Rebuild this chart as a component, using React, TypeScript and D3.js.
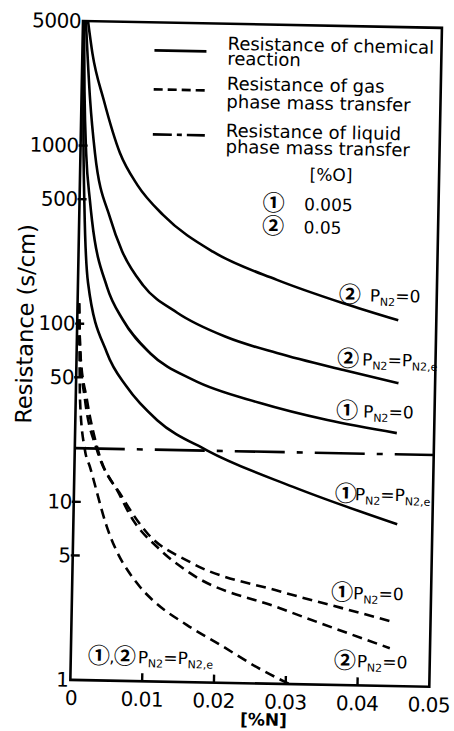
import React from 'react';
import * as d3 from 'd3';

// Axis ticks
const X_TICKS = [0, 0.01, 0.02, 0.03, 0.04, 0.05];
const X_TICK_LABELS = ['0', '0.01', '0.02', '0.03', '0.04', '0.05'];
const Y_TICKS = [1, 5, 10, 50, 100, 500, 1000, 5000];
const Y_MINOR_MARKS = [5, 10, 50, 100, 500, 1000];

type Pt = [number, number];

// Resistance of chemical reaction, [%N] vs s/cm
const chem2P0: Pt[] = [
  [0.0007, 5000], [0.0014, 3300], [0.0031, 1810], [0.0055, 916], [0.008, 610],
  [0.0117, 415], [0.0187, 262], [0.0277, 185], [0.037, 139], [0.0447, 113],
];
const chem2Pe: Pt[] = [
  [0.0004, 5000], [0.0012, 1810], [0.00202, 910], [0.0043, 395], [0.00606, 258],
  [0.00907, 167], [0.0139, 118], [0.0209, 87], [0.0279, 71.8], [0.0372, 58.6], [0.0449, 50.2],
];
const chem1P0: Pt[] = [
  [0.00015, 5000], [0.0004, 2000], [0.0008, 900], [0.00145, 490], [0.00178, 383],
  [0.00405, 162], [0.00637, 106], [0.0102, 69.7], [0.0163, 49.7], [0.0257, 37.5],
  [0.0351, 30.6], [0.0448, 26.3],
];
const chem1Pe: Pt[] = [
  [0.0001, 5000], [0.0003, 1500], [0.0007, 450], [0.0014, 170], [0.00423, 68.9],
  [0.0071, 44.6], [0.0114, 29.3], [0.0184, 20.1], [0.0305, 12.8], [0.0451, 8.1],
];

// Resistance of gas phase mass transfer
const gas1P0: Pt[] = [
  [0.0002, 130], [0.0005, 70], [0.00157, 37.3], [0.00323, 19.6], [0.0067, 10.8],
  [0.0103, 6.8], [0.0164, 4.71], [0.029, 3.3], [0.0374, 2.72], [0.0448, 2.29],
];
const gas2P0: Pt[] = [
  [0.0002, 130], [0.0005, 70], [0.0013, 37.3], [0.0031, 19.6], [0.0063, 11.2],
  [0.0079, 8.5], [0.0122, 5.47], [0.0164, 4.09], [0.029, 2.66], [0.0444, 1.63],
];
const gasPe: Pt[] = [
  [0.0002, 130], [0.0004, 70], [0.0006, 37.3], [0.00142, 19.5], [0.00217, 15.7],
  [0.00469, 7.27], [0.00946, 3.38], [0.0113, 2.85], [0.0161, 2.09], [0.0208, 1.63],
  [0.026, 1.23], [0.0305, 1.0],
];

// Resistance of liquid phase mass transfer (constant)
const LIQUID_RESISTANCE = 20;

const LEGEND_ITEMS = [
  { dash: 'none', lines: ['Resistance of chemical', 'reaction'] },
  { dash: '9 5', lines: ['Resistance of gas', 'phase mass transfer'] },
  { dash: '19 5 5 5', lines: ['Resistance of liquid', 'phase mass transfer'] },
];
const OXYGEN_HEADER = '[%O]';
const OXYGEN_LEVELS = [
  { mark: '①', value: '0.005' },
  { mark: '②', value: '0.05' },
];

const SANS = "'DejaVu Sans', Verdana, sans-serif";
const CIRC = "'Noto Sans CJK JP', 'DejaVu Sans', sans-serif";

const W = 359;
const H = 659;
const ORIGIN_X = 83;
const ORIGIN_Y = 21;
const TILT = 1.1;

type Part = { t: string; sub?: boolean };
const P0: Part[] = [{ t: 'P' }, { t: 'N2', sub: true }, { t: '=0' }];
const PE: Part[] = [{ t: 'P' }, { t: 'N2', sub: true }, { t: '=P' }, { t: 'N2,e', sub: true }];

// Curve annotations: circled numbers, position of the marks and of the formula
const CURVE_LABELS = [
  { marks: ['②'], mx: 261, fx: 292, y: 275, parts: P0 },
  { marks: ['②'], mx: 260.5, fx: 285.5, y: 339, parts: PE },
  { marks: ['①'], mx: 260.5, fx: 287.5, y: 391, parts: P0 },
  { marks: ['①'], mx: 261, fx: 281, y: 474, parts: PE },
  { marks: ['①'], mx: 259, fx: 281, y: 573, parts: P0 },
  { marks: ['②'], mx: 263, fx: 286, y: 641, parts: P0 },
  { marks: ['①', '②'], mx: 17, fx: 67, y: 641, parts: PE },
];

function Formula({ x, y, parts }: { x: number; y: number; parts: Part[] }) {
  let low = false;
  return (
    <text x={x} y={y} fontFamily={SANS} fontSize={17} fill="#000">
      {parts.map((p, i) => {
        let dy = 0;
        if (p.sub && !low) { dy = 4; low = true; }
        else if (!p.sub && low) { dy = -4; low = false; }
        return (
          <tspan key={i} dy={dy} fontSize={p.sub ? 11 : 17}>
            {p.t}
          </tspan>
        );
      })}
    </text>
  );
}

function Marks({ x, y, marks }: { x: number; y: number; marks: string[] }) {
  // circled numbers, separated by a comma when there are several
  return (
    <g>
      {marks.map((m, i) => (
        <g key={i}>
          <text x={x + i * 26} y={y} fontFamily={CIRC} fontSize={22} fontWeight={700}>
            {m}
          </text>
          {i < marks.length - 1 && (
            <text x={x + i * 26 + 21.5} y={y - 1} fontFamily={SANS} fontSize={16}>
              ,
            </text>
          )}
        </g>
      ))}
    </g>
  );
}

export default function App() {
  const x = d3.scaleLinear().domain([0, 0.05]).range([0, W]);
  const y = d3.scaleLog().domain([1, 5000]).range([H, 0]);
  const line = d3
    .line<Pt>()
    .x((d) => x(d[0]))
    .y((d) => y(d[1]))
    .curve(d3.curveMonotoneX);

  const solid = [chem2P0, chem2Pe, chem1P0, chem1Pe];
  const dashed = [gas1P0, gas2P0, gasPe];

  return (
    <svg
      width={454}
      height={731}
      style={{ position: 'absolute', left: 0, top: 0, background: '#fff' }}
    >
      <defs>
        <clipPath id="plotArea">
          <rect x={0} y={0} width={W} height={H} />
        </clipPath>
      </defs>
      <g transform={`rotate(${TILT}, ${ORIGIN_X}, ${ORIGIN_Y}) translate(${ORIGIN_X}, ${ORIGIN_Y})`}>
        {/* curves */}
        <g clipPath="url(#plotArea)" fill="none" stroke="#000">
          {solid.map((s, i) => (
            <path key={`s${i}`} d={line(s) ?? ''} strokeWidth={2.6} />
          ))}
          {dashed.map((s, i) => (
            <path key={`d${i}`} d={line(s) ?? ''} strokeWidth={2.6} strokeDasharray="10 6" />
          ))}
          <line
            x1={x(0)}
            x2={x(0.05)}
            y1={y(LIQUID_RESISTANCE)}
            y2={y(LIQUID_RESISTANCE)}
            strokeWidth={2.6}
            strokeDasharray="50 12 6 12"
          />
        </g>

        {/* frame */}
        <rect x={0} y={0} width={W} height={H} fill="none" stroke="#000" strokeWidth={2.6} />

        {/* y axis ticks and labels */}
        {Y_MINOR_MARKS.map((v) => (
          <line key={`yt${v}`} x1={-2} x2={7} y1={y(v)} y2={y(v)} stroke="#000" strokeWidth={2.4} />
        ))}
        {Y_TICKS.map((v) => (
          <text
            key={`yl${v}`}
            x={-2}
            y={y(v) + 7}
            textAnchor="end"
            fontFamily={SANS}
            fontSize={20}
            letterSpacing={-0.5}
          >
            {String(v)}
          </text>
        ))}

        {/* x axis ticks and labels */}
        {X_TICKS.slice(1, -1).map((v) => (
          <line key={`xt${v}`} x1={x(v)} x2={x(v)} y1={H} y2={H - 8} stroke="#000" strokeWidth={2.4} />
        ))}
        {X_TICKS.map((v, i) => (
          <text
            key={`xl${v}`}
            x={x(v) + (i === 0 ? 1 : 0)}
            y={H + 25}
            textAnchor="middle"
            fontFamily={SANS}
            fontSize={20}
            letterSpacing={-0.5}
          >
            {X_TICK_LABELS[i]}
          </text>
        ))}

        {/* axis titles */}
        <text
          x={x(0.027)}
          y={H + 42}
          textAnchor="middle"
          fontFamily={SANS}
          fontSize={17}
          fontWeight="bold"
        >
          [%N]
        </text>
        <text
          transform={`translate(-44, 304) rotate(-90)`}
          textAnchor="middle"
          fontFamily={SANS}
          fontSize={22.5}
        >
          Resistance (s/cm)
        </text>

        {/* legend */}
        {LEGEND_ITEMS.map((item, i) => {
          const ly = [28, 67, 112][i];
          const tys = [[26, 41], [66, 84], [113, 129]][i];
          return (
            <g key={`lg${i}`}>
              <line
                x1={72}
                x2={124}
                y1={ly}
                y2={ly}
                stroke="#000"
                strokeWidth={2.6}
                strokeDasharray={item.dash}
              />
              {item.lines.map((t, j) => (
                <text key={j} x={145} y={tys[j]} fontFamily={SANS} fontSize={18}>
                  {t}
                </text>
              ))}
            </g>
          );
        })}
        <text x={251} y={155} textAnchor="middle" fontFamily={SANS} fontSize={17}>
          {OXYGEN_HEADER}
        </text>
        {OXYGEN_LEVELS.map((o, i) => (
          <g key={`ox${i}`}>
            <text x={183} y={186 + i * 23} fontFamily={CIRC} fontSize={22} fontWeight={700}>
              {o.mark}
            </text>
            <text x={224.5} y={185 + i * 23} fontFamily={SANS} fontSize={17}>
              {o.value}
            </text>
          </g>
        ))}

        {/* curve annotations */}
        {CURVE_LABELS.map((l, i) => (
          <g key={`cl${i}`}>
            <Marks x={l.mx} y={l.y + 1} marks={l.marks} />
            <Formula x={l.fx} y={l.y} parts={l.parts} />
          </g>
        ))}
      </g>
    </svg>
  );
}
